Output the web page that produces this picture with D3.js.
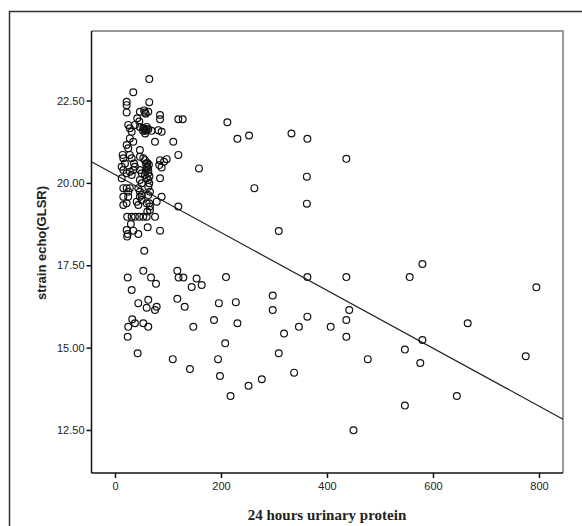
<!DOCTYPE html>
<html>
<head>
<meta charset="utf-8">
<script src="https://cdn.jsdelivr.net/npm/d3@7"></script>
<style>
  body { margin: 0; background: #fff; }
  svg { display: block; }
</style>
</head>
<body>
<div id="chart"></div>
<script>
// values: 24h urinary protein vs strain echo (GLSR)
const protein = [
  64.7, 34.5, 22, 22, 22, 64.7, 47, 56.6, 62.8, 58, 55, 85, 85, 119.5, 127.8,
  42, 45.9, 25, 28, 31.5, 37.7, 47, 53.4, 56.6, 59.8, 62.8, 69, 81.7, 88,
  55, 58, 60, 57, 53, 28, 34.5, 75.5, 110, 22, 25, 47, 97.6, 92.5, 119.5,
  14.5, 15.7, 18.9, 28, 31.5, 35.9, 37.7, 47, 53.4, 56.6, 58.5, 61, 62.8,
  85, 83.6, 88, 12.6, 15.7, 22, 28, 31.5, 34.5, 47, 50.4, 56.6, 59.8, 62.8,
  64.7, 85, 12.6, 47, 50.4, 15.7, 22, 25, 44, 47, 50.4, 62.8, 66, 62.8, 47,
  50.4, 88, 119.5, 15.7, 22, 41, 44, 59.8, 64.7, 66, 78.7, 61, 66,
  61, 64, 60, 63, 58, 65, 28, 15.7, 25,
  23, 31.5, 37.7, 45.9, 53.4, 59.8, 75.5,
  30, 22, 24, 23, 34.5, 44, 61.7, 85, 55.3, 53.4, 24, 68, 77.4, 31.5, 44,
  62.8, 59.8, 78.7, 75.5, 32.6, 25, 37.7, 53.4, 62.8, 24, 42.8,
  212, 231, 253, 333, 363, 436.5, 158.5, 263, 362, 362, 309,
  154, 163.6, 144.7, 209.5, 363, 436.5, 196, 228, 297.6, 297.6, 442, 436.5,
  363, 186.8, 231, 147.8, 319, 347, 407, 436.5, 208, 309, 194.4, 477, 141.5,
  198, 338, 252, 277, 218, 450,
  117.6, 131.5, 109, 117.6, 120, 129,
  580, 556, 795, 665.5, 580, 547, 576, 775, 645, 547
];
const glsr = [
  23.15, 22.75, 22.46, 22.36, 22.14, 22.45, 22.16, 22.14, 22.16, 22.1, 22.2, 22.06, 21.93, 21.93, 21.93,
  21.96, 21.86, 21.76, 21.66, 21.55, 21.76, 21.7, 21.66, 21.6, 21.7, 21.63, 21.58, 21.6, 21.55,
  21.65, 21.58, 21.62, 21.5, 21.58, 21.35, 21.25, 21.25, 21.25, 21.15, 21.05, 21.0, 20.72, 20.64, 20.85,
  20.85, 20.75, 20.59, 20.85, 20.75, 20.59, 20.49, 20.79, 20.75, 20.69, 20.59, 20.49, 20.39,
  20.69, 20.54, 20.47, 20.49, 20.39, 20.29, 20.34, 20.24, 20.39, 20.39, 20.29, 20.24, 20.14, 20.09,
  19.99, 20.14, 20.14, 20.09, 19.99, 19.84, 19.84, 19.73, 19.84, 19.73, 19.63, 19.88, 19.73, 19.63, 19.58,
  19.48, 19.58, 19.28, 19.33, 19.38, 19.43, 19.33, 19.38, 19.38, 19.28, 19.43, 19.13, 19.18,
  20.6, 20.55, 20.45, 20.3, 20.35, 20.2, 19.84, 19.58, 19.58,
  18.97, 18.97, 18.97, 18.97, 18.97, 18.97, 18.97,
  18.75, 18.57, 18.45, 18.37, 18.55, 18.45, 18.65, 18.55, 17.94, 17.33, 17.13, 17.13, 16.94, 16.75, 16.35,
  16.45, 16.21, 16.24, 16.14, 15.86, 15.63, 15.74, 15.74, 15.63, 15.33, 14.83,
  21.84, 21.34, 21.44, 21.5, 21.34, 20.73, 20.44, 19.84, 20.19, 19.37, 18.54,
  17.1, 16.9, 16.84, 17.14, 17.14, 17.14, 16.35, 16.38, 16.58, 16.14, 16.14, 15.84,
  15.94, 15.84, 15.74, 15.63, 15.43, 15.63, 15.63, 15.33, 15.13, 14.83, 14.65, 14.65, 14.35,
  14.14, 14.24, 13.84, 14.04, 13.53, 12.49,
  16.48, 16.24, 14.65, 17.33, 17.13, 17.13,
  17.54, 17.14, 16.83, 15.74, 15.23, 14.94, 14.53, 14.74, 13.53, 13.24
];
const xTicks = [0, 200, 400, 600, 800];
const yTicks = [12.5, 15, 17.5, 20, 22.5];
// fit line as drawn in the figure
const fitIntercept = 20.25;
const fitSlope = -0.00878;

const W = 582, H = 526;
const plot = { left: 91.5, top: 31, right: 563, bottom: 473 };

const svg = d3.select("#chart").append("svg")
  .attr("width", W).attr("height", H);

// outer frame (runs past the right / bottom edges)
svg.append("rect")
  .attr("x", 9.5).attr("y", 11.5).attr("width", 700).attr("height", 700)
  .attr("fill", "none").attr("stroke", "#333").attr("stroke-width", 1.5);

const x = d3.scaleLinear().domain([-44.3, 845.3]).range([plot.left, plot.right]);
const y = d3.scaleLinear().domain([11.195, 24.61]).range([plot.bottom, plot.top]);

// top + right border, lighter grey
svg.append("path")
  .attr("d", `M${plot.left},${plot.top}H${plot.right}V${plot.bottom}`)
  .attr("fill", "none").attr("stroke", "#777").attr("stroke-width", 1.5);

const gx = svg.append("g").attr("transform", `translate(0,${plot.bottom})`)
  .call(d3.axisBottom(x).tickValues(xTicks).tickSize(5).tickPadding(4).tickSizeOuter(0));
const gy = svg.append("g").attr("transform", `translate(${plot.left},0)`)
  .call(d3.axisLeft(y).tickValues(yTicks).tickFormat(d3.format(".2f")).tickSize(5).tickPadding(2).tickSizeOuter(0));

[gx, gy].forEach(g => {
  g.select(".domain").attr("stroke", "#111").attr("stroke-width", 1.5)
    .attr("d", g === gx ? `M${plot.left},0H${plot.right}` : `M0,${plot.top}V${plot.bottom}`);
  g.selectAll(".tick line").attr("stroke", "#111").attr("stroke-width", 1.5);
  g.selectAll(".tick text").attr("fill", "#222")
    .style("font-family", "'Liberation Sans', Arial, sans-serif").style("font-size", "11px");
});

// regression line
svg.append("line")
  .attr("x1", x(x.domain()[0])).attr("y1", y(fitIntercept + fitSlope * x.domain()[0]))
  .attr("x2", x(x.domain()[1])).attr("y2", y(fitIntercept + fitSlope * x.domain()[1]))
  .attr("stroke", "#222").attr("stroke-width", 1.2);

svg.append("g").selectAll("circle")
  .data(d3.zip(protein, glsr)).join("circle")
  .attr("cx", d => x(d[0])).attr("cy", d => y(d[1]))
  .attr("r", 3.4)
  .attr("fill", "none").attr("stroke", "#111").attr("stroke-width", 1.2);

// axis titles
svg.append("text")
  .attr("x", 327).attr("y", 520)
  .attr("text-anchor", "middle")
  .style("font-family", "'Liberation Serif', 'DejaVu Serif', serif")
  .style("font-weight", "bold").style("font-size", "15px").attr("fill", "#222")
  .text("24 hours urinary protein");

svg.append("text")
  .attr("transform", "translate(46,243) rotate(-90)")
  .attr("text-anchor", "middle")
  .style("font-family", "'Liberation Sans', Arial, sans-serif")
  .style("font-weight", "bold").style("font-size", "13px").attr("fill", "#222")
  .text("strain echo(GLSR)");
</script>
</body>
</html>
